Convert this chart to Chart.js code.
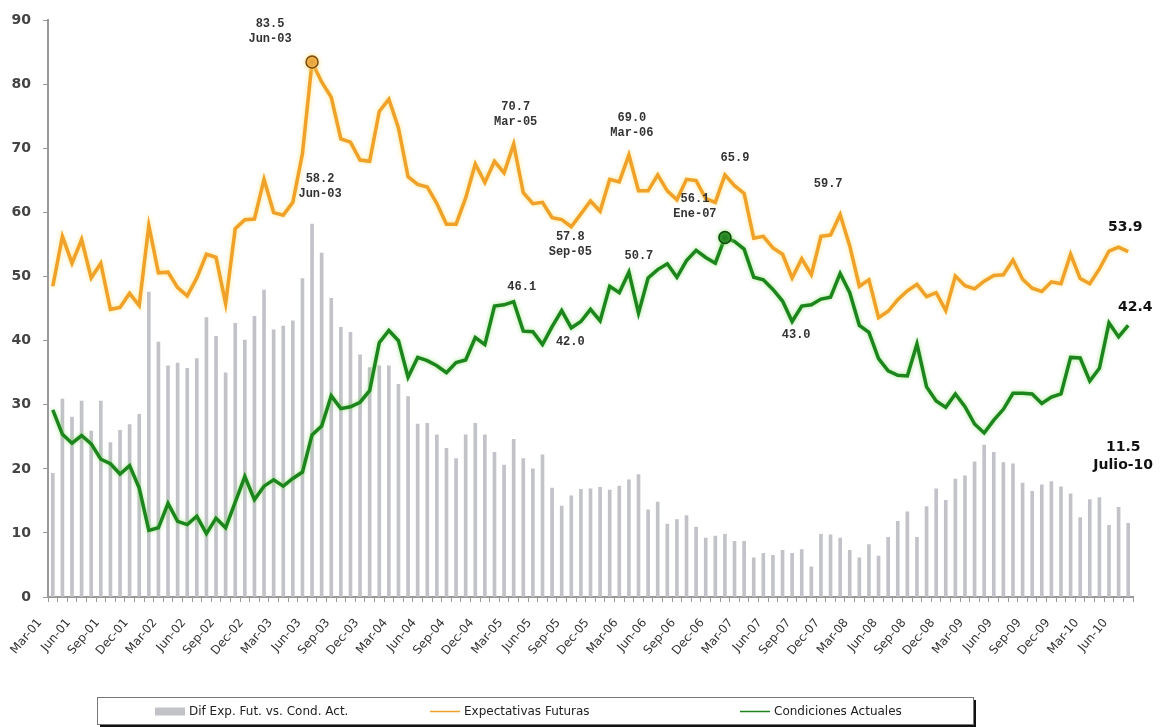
<!DOCTYPE html>
<html>
<head>
<meta charset="utf-8">
<script src="https://cdn.jsdelivr.net/npm/chart.js@4.4.1/dist/chart.umd.min.js"></script>
<style>
  html, body { margin: 0; padding: 0; background: #fff; }
  #wrap { width: 1164px; height: 727px; position: relative; }
</style>
</head>
<body>
<div id="wrap"><canvas id="myChart"></canvas></div>
<script>
(function () {
  'use strict'

  // Meses, mar-2001 a jul-2010
  var meses = [
    'Mar-01', 'Apr-01', 'May-01', 'Jun-01', 'Jul-01', 'Aug-01', 'Sep-01', 'Oct-01', 'Nov-01', 'Dec-01',
    'Jan-02', 'Feb-02', 'Mar-02', 'Apr-02', 'May-02', 'Jun-02', 'Jul-02', 'Aug-02', 'Sep-02', 'Oct-02', 'Nov-02', 'Dec-02',
    'Jan-03', 'Feb-03', 'Mar-03', 'Apr-03', 'May-03', 'Jun-03', 'Jul-03', 'Aug-03', 'Sep-03', 'Oct-03', 'Nov-03', 'Dec-03',
    'Jan-04', 'Feb-04', 'Mar-04', 'Apr-04', 'May-04', 'Jun-04', 'Jul-04', 'Aug-04', 'Sep-04', 'Oct-04', 'Nov-04', 'Dec-04',
    'Jan-05', 'Feb-05', 'Mar-05', 'Apr-05', 'May-05', 'Jun-05', 'Jul-05', 'Aug-05', 'Sep-05', 'Oct-05', 'Nov-05', 'Dec-05',
    'Jan-06', 'Feb-06', 'Mar-06', 'Apr-06', 'May-06', 'Jun-06', 'Jul-06', 'Aug-06', 'Sep-06', 'Oct-06', 'Nov-06', 'Dec-06',
    'Jan-07', 'Feb-07', 'Mar-07', 'Apr-07', 'May-07', 'Jun-07', 'Jul-07', 'Aug-07', 'Sep-07', 'Oct-07', 'Nov-07', 'Dec-07',
    'Jan-08', 'Feb-08', 'Mar-08', 'Apr-08', 'May-08', 'Jun-08', 'Jul-08', 'Aug-08', 'Sep-08', 'Oct-08', 'Nov-08', 'Dec-08',
    'Jan-09', 'Feb-09', 'Mar-09', 'Apr-09', 'May-09', 'Jun-09', 'Jul-09', 'Aug-09', 'Sep-09', 'Oct-09', 'Nov-09', 'Dec-09',
    'Jan-10', 'Feb-10', 'Mar-10', 'Apr-10', 'May-10', 'Jun-10', 'Jul-10'
  ]

  var expectativas = [
    48.5, 56.3, 52.1, 55.8, 49.8, 52.1, 44.9, 45.2, 47.4, 45.5,
    58.0, 50.6, 50.7, 48.3, 47.0, 49.8, 53.5, 53.0, 45.8, 57.5, 58.9, 59.0,
    65.2, 60.0, 59.6, 61.6, 69.2, 83.5, 80.4, 78.0, 71.5, 71.0, 68.2, 68.0,
    75.8, 77.7, 73.2, 65.6, 64.4, 64.0, 61.4, 58.2, 58.2, 62.3, 67.6, 64.7,
    68.0, 66.2, 70.7, 63.1, 61.4, 61.6, 59.2, 58.9, 57.8, 59.8, 61.8, 60.2,
    65.2, 64.8, 69.0, 63.4, 63.4, 65.9, 63.4, 62.0, 65.2, 65.0, 62.2, 61.6,
    65.9, 64.2, 63.0, 56.0, 56.3, 54.5, 53.5, 49.8, 52.8, 50.3, 56.3, 56.5,
    59.7, 54.8, 48.5, 49.5, 43.6, 44.6, 46.4, 47.8, 48.8, 46.9, 47.5, 44.7,
    50.1, 48.6, 48.1, 49.3, 50.2, 50.3, 52.6, 49.6, 48.2, 47.7, 49.2, 48.9,
    53.5, 49.7, 48.9, 51.2, 54.0, 54.6, 53.9
  ]

  var condiciones = [
    29.2, 25.4, 24.0, 25.2, 23.9, 21.5, 20.8, 19.2, 20.5, 17.0,
    10.4, 10.8, 14.6, 11.8, 11.3, 12.6, 9.9, 12.3, 10.8, 14.8, 18.8, 15.2,
    17.3, 18.3, 17.3, 18.5, 19.5, 25.3, 26.7, 31.4, 29.4, 29.7, 30.4, 32.2,
    39.7, 41.6, 40.0, 34.3, 37.4, 36.9, 36.1, 35.0, 36.6, 37.0, 40.5, 39.4,
    45.4, 45.6, 46.1, 41.5, 41.4, 39.4, 42.2, 44.7, 42.0, 43.0, 44.9, 43.1,
    48.5, 47.5, 50.7, 44.3, 49.8, 51.1, 52.0, 49.9, 52.5, 54.1, 53.0, 52.1,
    56.1, 55.5, 54.3, 49.9, 49.5, 48.0, 46.2, 43.0, 45.4, 45.6, 46.5, 46.8,
    50.5, 47.5, 42.4, 41.3, 37.2, 35.3, 34.6, 34.5, 39.5, 32.8, 30.6, 29.6,
    31.7, 29.7, 27.0, 25.6, 27.6, 29.3, 31.8, 31.8, 31.7, 30.2, 31.2, 31.7,
    37.4, 37.3, 33.7, 35.7, 42.8, 40.6, 42.4
  ]

  var diferencia = [
    19.3, 30.9, 28.1, 30.6, 25.9, 30.6, 24.1, 26.0, 26.9, 28.5,
    47.6, 39.8, 36.1, 36.5, 35.7, 37.2, 43.6, 40.7, 35.0, 42.7, 40.1, 43.8,
    47.9, 41.7, 42.3, 43.1, 49.7, 58.2, 53.7, 46.6, 42.1, 41.3, 37.8, 35.8,
    36.1, 36.1, 33.2, 31.3, 27.0, 27.1, 25.3, 23.2, 21.6, 25.3, 27.1, 25.3,
    22.6, 20.6, 24.6, 21.6, 20.0, 22.2, 17.0, 14.2, 15.8, 16.8, 16.9, 17.1,
    16.7, 17.3, 18.3, 19.1, 13.6, 14.8, 11.4, 12.1, 12.7, 10.9, 9.2, 9.5,
    9.8, 8.7, 8.7, 6.1, 6.8, 6.5, 7.3, 6.8, 7.4, 4.7, 9.8, 9.7,
    9.2, 7.3, 6.1, 8.2, 6.4, 9.3, 11.8, 13.3, 9.3, 14.1, 16.9, 15.1,
    18.4, 18.9, 21.1, 23.7, 22.6, 21.0, 20.8, 17.8, 16.5, 17.5, 18.0, 17.2,
    16.1, 12.4, 15.2, 15.5, 11.2, 14.0, 11.5
  ]

  // puntos destacados con circulo
  var picoExp = 27   // Jun-03
  var picoCond = 70  // Ene-07

  // etiquetas de texto: serie, indice, lineas
  var notas = [
    { ds: 1, i: 27, txt: ['83.5', 'Jun-03'], dx: -42, dy: -38 },
    { ds: 0, i: 27, txt: ['58.2', 'Jun-03'], dx: 8, dy: -45 },
    { ds: 1, i: 48, txt: ['70.7', 'Mar-05'], dx: 2, dy: -37 },
    { ds: 2, i: 48, txt: ['46.1'], dx: 8, dy: -15 },
    { ds: 1, i: 54, txt: ['57.8', 'Sep-05'], dx: -1, dy: 10 },
    { ds: 2, i: 54, txt: ['42.0'], dx: -1, dy: 14 },
    { ds: 1, i: 60, txt: ['69.0', 'Mar-06'], dx: 3, dy: -37 },
    { ds: 2, i: 60, txt: ['50.7'], dx: 10, dy: -16 },
    { ds: 2, i: 70, txt: ['56.1', 'Ene-07'], dx: -30, dy: -39 },
    { ds: 1, i: 70, txt: ['65.9'], dx: 10, dy: -17 },
    { ds: 2, i: 77, txt: ['43.0'], dx: 4, dy: 13 },
    { ds: 1, i: 82, txt: ['59.7'], dx: -12, dy: -31 },
    { ds: 1, i: 112, txt: ['53.9'], dx: -3, dy: -24, big: true },
    { ds: 2, i: 112, txt: ['42.4'], dx: 7, dy: -18, big: true },
    { ds: 0, i: 112, txt: ['11.5', 'Julio-10'], dx: -5, dy: -76, big: true }
  ]

  var resplandor = {
    id: 'resplandor',
    beforeDatasetDraw: function (chart, args) {
      var ds = chart.data.datasets[args.index]
      chart.ctx.save()
      if (ds.glow) {
        chart.ctx.shadowColor = ds.glow
        chart.ctx.shadowBlur = 4
      }
    },
    afterDatasetDraw: function (chart) {
      chart.ctx.restore()
    }
  }

  var etiquetas = {
    id: 'etiquetas',
    afterDatasetsDraw: function (chart) {
      var ctx = chart.ctx
      ctx.save()
      ctx.textAlign = 'center'
      ctx.textBaseline = 'middle'
      notas.forEach(function (n) {
        var el = chart.getDatasetMeta(n.ds).data[n.i]
        ctx.font = n.big ? 'bold 14px "DejaVu Sans"' : 'bold 12px "Liberation Mono"'
        ctx.fillStyle = n.big ? '#111' : '#333'
        var paso = n.big ? 18 : 15
        n.txt.forEach(function (t, k) {
          ctx.fillText(t, el.x + n.dx, el.y + n.dy + k * paso)
        })
      })
      ctx.restore()
    }
  }

  // leyenda dibujada a mano dentro de un recuadro con sombra
  var leyenda = {
    id: 'leyenda',
    afterDraw: function (chart) {
      var ctx = chart.ctx
      var box = { x: 97, y: 697, w: 876, h: 27 }
      var xs = [155, 430, 740]
      ctx.save()
      ctx.fillStyle = '#111'
      ctx.fillRect(box.x + 3, box.y + 3, box.w, box.h)
      ctx.fillStyle = '#fff'
      ctx.fillRect(box.x, box.y, box.w, box.h)
      ctx.strokeStyle = '#777'
      ctx.lineWidth = 1
      ctx.strokeRect(box.x + 0.5, box.y + 0.5, box.w, box.h)
      var cy = box.y + box.h / 2 + 1
      ctx.font = '12px "DejaVu Sans"'
      ctx.textBaseline = 'middle'
      ctx.textAlign = 'left'
      chart.data.datasets.forEach(function (ds, k) {
        var x = xs[k]
        if (ds.type === 'bar') {
          ctx.fillStyle = ds.backgroundColor
          ctx.fillRect(x, cy - 4, 30, 8)
        } else {
          ctx.strokeStyle = ds.borderColor
          ctx.lineWidth = 1.5
          ctx.beginPath()
          ctx.moveTo(x, cy)
          ctx.lineTo(x + 30, cy)
          ctx.stroke()
        }
        ctx.fillStyle = '#222'
        ctx.fillText(ds.label, x + 34, cy)
      })
      ctx.restore()
    }
  }

  var ctx = document.getElementById('myChart')
  new Chart(ctx, {
    type: 'bar',
    data: {
      labels: meses,
      datasets: [{
        type: 'bar',
        label: 'Dif Exp. Fut. vs. Cond. Act.',
        data: diferencia,
        backgroundColor: '#c2c3c8',
        barThickness: 3,
        order: 3
      }, {
        type: 'line',
        label: 'Expectativas Futuras',
        data: expectativas,
        borderColor: '#f0a12a',
        borderWidth: 3.5,
        tension: 0,
        glow: 'rgba(255, 225, 120, 0.9)',
        pointRadius: function (c) { return c.dataIndex === picoExp ? 6 : 0 },
        pointBackgroundColor: '#e9a23b',
        pointBorderColor: '#7a4a10',
        pointBorderWidth: 1.5,
        order: 2
      }, {
        type: 'line',
        label: 'Condiciones Actuales',
        data: condiciones,
        borderColor: '#1d851d',
        borderWidth: 3.5,
        tension: 0,
        glow: 'rgba(140, 225, 110, 0.8)',
        pointRadius: function (c) { return c.dataIndex === picoCond ? 6 : 0 },
        pointBackgroundColor: '#1c7c1c',
        pointBorderColor: '#0b4a0b',
        pointBorderWidth: 1.5,
        order: 1
      }]
    },
    options: {
      responsive: true,
      maintainAspectRatio: false,
      animation: false,
      layout: { padding: { top: 18, right: 31, bottom: 30, left: 0 } },
      plugins: {
        legend: { display: false },
        tooltip: { enabled: false }
      },
      scales: {
        x: {
          offset: true,
          grid: { drawOnChartArea: false, drawTicks: true, tickLength: 5, color: '#999', offset: true },
          border: { color: '#999', width: 2 },
          ticks: {
            autoSkip: false,
            minRotation: 50,
            maxRotation: 50,
            padding: 14,
            labelOffset: -13,
            color: '#333',
            font: { family: 'DejaVu Sans', size: 12 },
            callback: function (v, i) { return i % 3 === 0 ? this.getLabelForValue(v) : '' }
          },
          afterFit: function (s) { s.height = 100 }
        },
        y: {
          min: 0,
          max: 90,
          grid: { drawOnChartArea: false, drawTicks: true, tickLength: 5, color: '#999' },
          border: { color: '#999', width: 2 },
          ticks: {
            stepSize: 10,
            padding: 12,
            color: '#444',
            font: { family: 'DejaVu Sans', size: 14, weight: 'bold' }
          },
          afterFit: function (s) { s.width = 48 }
        }
      }
    },
    plugins: [resplandor, etiquetas, leyenda]
  })
})()
</script>
</body>
</html>
